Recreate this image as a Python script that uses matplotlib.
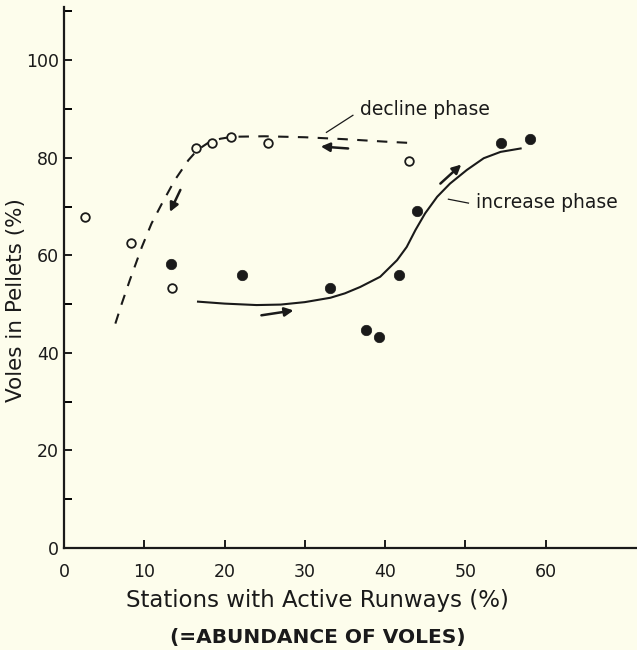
import matplotlib
matplotlib.use("Agg")
import matplotlib.pyplot as plt
from matplotlib.ticker import MultipleLocator

plt.rcParams['font.family'] = ['DejaVu Sans']

# ---- data ----
open_x = [2.6, 8.4, 13.4, 16.5, 18.4, 20.8, 25.4, 43.0]
open_y = [67.8, 62.6, 53.2, 81.9, 83.1, 84.2, 83.1, 79.3]

filled_x = [13.3, 22.2, 33.2, 37.6, 39.3, 41.8, 44.0, 54.4, 58.1]
filled_y = [58.2, 55.9, 53.2, 44.7, 43.3, 55.9, 69.1, 83.1, 83.9]

# hand-drawn decline-phase curve (dashed)
decline_x = [6.4, 7.2, 8.2, 9.7, 10.9, 12.2, 13.8, 15.5, 16.2, 17.0, 18.0, 19.5, 21.0, 25.0, 30.0, 35.0, 40.0, 43.5]
decline_y = [46.0, 50.1, 54.9, 61.7, 66.5, 70.6, 75.4, 79.5, 80.8, 82.0, 83.1, 83.9, 84.3, 84.4, 84.2, 83.8, 83.3, 83.0]

# hand-drawn increase-phase curve (solid)
increase_x = [16.7, 20.0, 24.0, 27.0, 30.0, 33.2, 35.0, 36.9, 39.4, 41.5, 42.7, 43.8, 45.0, 46.5, 48.1, 50.2, 52.3, 54.4, 56.9]
increase_y = [50.5, 50.1, 49.8, 49.9, 50.4, 51.3, 52.2, 53.5, 55.6, 59.0, 61.7, 65.2, 68.6, 72.0, 74.7, 77.5, 79.9, 81.2, 81.9]

# direction arrows: (tail_x, tail_y, head_x, head_y)
arrows = [
    (14.5, 73.4, 13.2, 68.9),
    (35.4, 81.9, 32.0, 82.3),
    (24.6, 47.7, 28.6, 48.7),
    (46.9, 74.7, 49.5, 78.6),
]

x_ticks = [0, 10, 20, 30, 40, 50, 60]
y_ticks = [0, 20, 40, 60, 80, 100]

bg = '#fdfdec'
ink = '#1a1a1a'

W, H = 637, 650
fig = plt.figure(figsize=(W / 100, H / 100), dpi=100, facecolor=bg)
left_px, right_px, bottom_px, top_px = 64, 637, 548, 7
ax = fig.add_axes([left_px / W, (H - bottom_px) / H, (right_px - left_px) / W, (bottom_px - top_px) / H])
ax.set_facecolor(bg)
ax.set_xlim(0, 71.4)
ax.set_ylim(0, 110.9)

for s in ['top', 'right']:
    ax.spines[s].set_visible(False)
for s in ['left', 'bottom']:
    ax.spines[s].set_linewidth(1.6)
    ax.spines[s].set_color(ink)

ax.set_xticks(x_ticks)
ax.set_yticks(y_ticks)
ax.yaxis.set_minor_locator(MultipleLocator(10))
ax.tick_params(axis='x', direction='in', length=5.5, width=1.4, pad=10.5,
               labelsize=12.5, colors=ink)
ax.tick_params(axis='y', which='major', direction='in', length=6, width=1.4, pad=3.5,
               labelsize=12.5, colors=ink)
ax.tick_params(axis='y', which='minor', direction='in', length=5.5, width=1.4)

ax.plot(decline_x, decline_y, color=ink, lw=1.5, ls=(0, (5, 4.5)), zorder=2)
ax.plot(increase_x, increase_y, color=ink, lw=1.5, ls='-', zorder=2)

ax.plot(open_x, open_y, ls='none', marker='o', markersize=6.2, markerfacecolor=bg,
        markeredgecolor=ink, markeredgewidth=1.3, zorder=3)
ax.plot(filled_x, filled_y, ls='none', marker='o', markersize=7.5, markerfacecolor=ink,
        markeredgecolor=ink, markeredgewidth=0.5, zorder=3)

for tx, ty, hx, hy in arrows:
    ax.annotate('', xy=(hx, hy), xytext=(tx, ty),
                arrowprops=dict(arrowstyle='-|>', color=ink, lw=1.8,
                                mutation_scale=13, shrinkA=0, shrinkB=0))

# phase labels with leader lines
ax.plot([36.0, 32.7], [88.7, 85.2], color=ink, lw=0.9)
ax.text(36.9, 89.8, 'decline phase', fontsize=13.5, color=ink, ha='left', va='center')
ax.plot([47.9, 50.4], [71.5, 70.7], color=ink, lw=0.9)
ax.text(51.4, 70.9, 'increase phase', fontsize=13.5, color=ink, ha='left', va='center')

fig.text(16 / W, 1 - 300 / H, 'Voles in Pellets (%)', rotation=90, ha='center', va='center',
         fontsize=15.5, color=ink)
fig.text(317 / W, 1 - 600 / H, 'Stations with Active Runways (%)', ha='center', va='center',
         fontsize=16.5, color=ink)
fig.text(318 / W, 1 - 637 / H, '(=ABUNDANCE OF VOLES)', ha='center', va='center',
         fontsize=14.5, fontweight='bold', color=ink)

fig.savefig('out.png', dpi=100, facecolor=bg)
